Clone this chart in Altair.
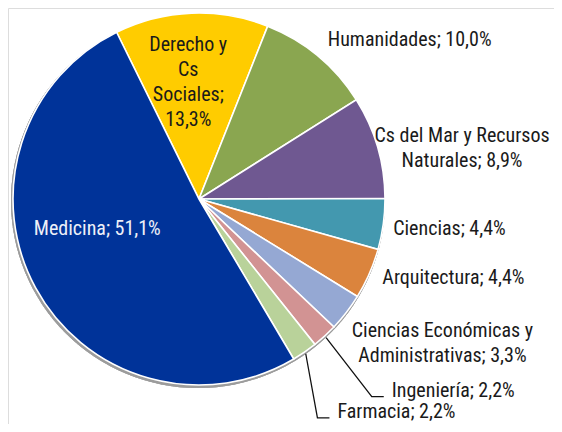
import math
import altair as alt
import pandas as pd

# ---- data ----
categories = ["Derecho y Cs Sociales", "Humanidades", "Cs del Mar y Recursos Naturales",
              "Ciencias", "Arquitectura", "Ciencias Económicas y Administrativas",
              "Ingeniería", "Farmacia", "Medicina"]
values = [13.3, 10.0, 8.9, 4.4, 4.4, 3.3, 2.2, 2.2, 51.1]
label_texts = ["Derecho y\nCs\nSociales;\n13,3%", "Humanidades; 10,0%",
               "Cs del Mar y Recursos\nNaturales; 8,9%", "Ciencias; 4,4%",
               "Arquitectura; 4,4%", "Ciencias Económicas y\nAdministrativas; 3,3%",
               "Ingeniería; 2,2%", "Farmacia; 2,2%", "Medicina; 51,1%"]

# ---- styles ----
colors = ["#FFCC00", "#8AA650", "#6F5891", "#4398AF", "#DB843D",
          "#95A8D3", "#D29393", "#B9D29A", "#003399"]
label_radius = [118, 200, 200, 196, 198, 220, 260, 272, 110]
label_dx = [-6, 1, 71, 0, 2, 69, 17, -16, -5]
label_dy = [1, -5, 5, 3, 0, 10, 0, -11, -22]
label_align = ["center", "left", "center", "left", "left", "center", "left", "left", "center"]
label_color = ["#1a1a1a"] * 8 + ["#EEF0F8"]
leader = [False] * 6 + [True, True, False]
FONT = "Liberation Sans Narrow, Arial Narrow, Roboto Condensed, DejaVu Sans Condensed, sans-serif"
FS = 20
LH = 25
CX, CY, R = 191, 191, 186
START = math.radians(-26.3) + 2 * math.pi

total = sum(values)
cum = 0.0
rows, lab_rows, line_rows = [], [], []
for i, (c, v) in enumerate(zip(categories, values)):
    mid = START + 2 * math.pi * (cum + v / 2) / total
    cum += v
    rows.append({"cat": c, "value": v, "idx": i})
    nlines = label_texts[i].count("\n") + 1
    lx = CX + label_radius[i] * math.sin(mid) + label_dx[i]
    ly = CY - label_radius[i] * math.cos(mid) + label_dy[i] - (nlines - 1) * LH / 2
    lab_rows.append({"cat": c, "text": label_texts[i], "x": lx, "y": ly,
                     "align": label_align[i], "color": label_color[i]})
    if leader[i]:
        sx = CX + (R + 2) * math.sin(mid)
        sy = CY - (R + 2) * math.cos(mid)
        line_rows += [
            {"cat": c, "o": 0, "x": sx, "y": sy},
            {"cat": c, "o": 1, "x": lx - 20, "y": ly + 6},
            {"cat": c, "o": 2, "x": lx - 8, "y": ly + 6},
        ]

df = pd.DataFrame(rows)
labs = pd.DataFrame(lab_rows)
lines = pd.DataFrame(line_rows)

theta_scale = alt.Scale(domain=[0, total], range=[START, START + 2 * math.pi])

shadow = alt.Chart(df).mark_arc(radius=R + 1, color="#9a9a9a", opacity=0.35).encode(
    theta=alt.value(0), theta2=alt.value(6.2832),
    x=alt.value(CX - 1), y=alt.value(CY + 2))

pie = alt.Chart(df).mark_arc(radius=R, stroke="white", strokeWidth=1.6).encode(
    theta=alt.Theta("value:Q", stack=True, scale=theta_scale),
    order=alt.Order("idx:Q"),
    color=alt.Color("cat:N", scale=alt.Scale(domain=categories, range=colors), legend=None),
    x=alt.value(CX), y=alt.value(CY))

leaders = alt.Chart(lines).mark_line(color="#111111", strokeWidth=1.3).encode(
    x=alt.X("x:Q", scale=None), y=alt.Y("y:Q", scale=None),
    detail="cat:N", order="o:Q")

def text_layer(align):
    d = labs[labs["align"] == align]
    return alt.Chart(d).mark_text(align=align, baseline="middle", font=FONT, fontSize=FS,
                                  lineBreak="\n", lineHeight=LH).encode(
        x=alt.X("x:Q", scale=None), y=alt.Y("y:Q", scale=None),
        text="text:N", color=alt.Color("color:N", scale=None))

chart = alt.layer(shadow, pie, leaders, text_layer("left"), text_layer("center")).properties(
    width=546, height=416, padding=0, autosize=alt.AutoSizeParams(type="none")
).configure_view(stroke=None).configure(background="white")

chart.save("out.html", embed_options={"renderer": "svg", "actions": False})
